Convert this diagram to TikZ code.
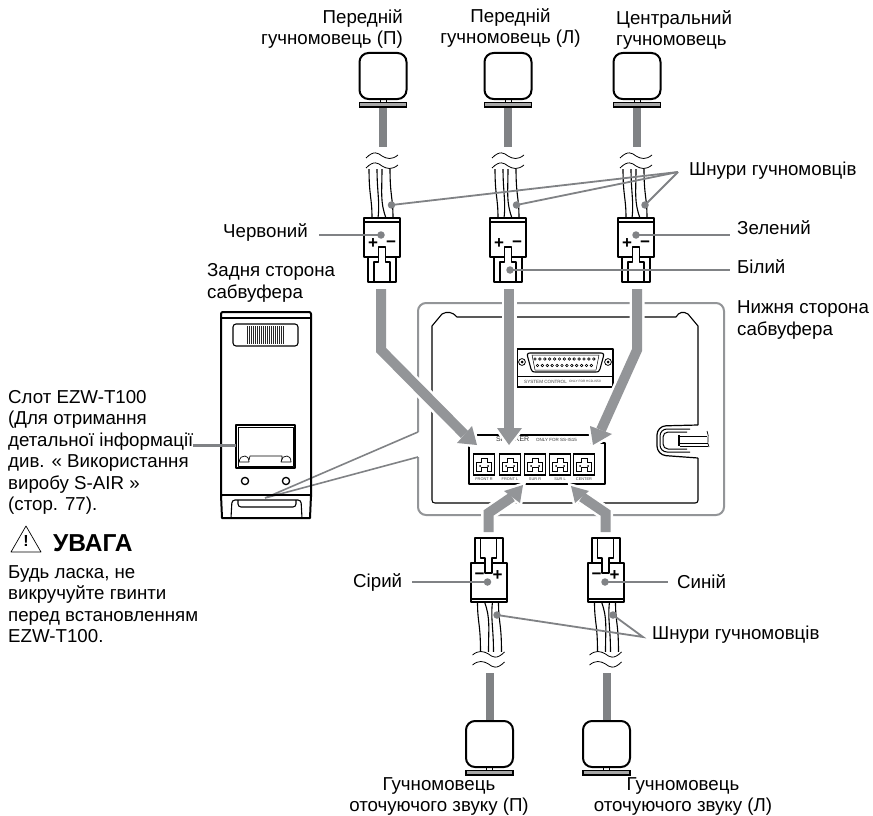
\documentclass[tikz,border=0pt]{standalone}
\usepackage{fontspec}
\setmainfont{Liberation Sans}
\definecolor{arrowgrey}{HTML}{939598}
\definecolor{cablegrey}{HTML}{808285}
\tikzset{
 txt/.style={inner sep=0pt,font=\fontsize{18.7}{21.5}\selectfont},
 bk/.style={draw=black,line width=1.1pt,line join=round},
 thick line/.style={draw=black,line width=2pt,line join=round},
 lead/.style={draw=cablegrey,line width=2.2pt},
 thin lead/.style={draw=cablegrey,line width=1.6pt},
 dotmark/.style={circle,fill=cablegrey,inner sep=0pt,minimum size=7.5pt},
 cable/.style={draw=cablegrey,line width=8pt},
 shaft/.style={draw=arrowgrey,line width=10pt,line join=miter},
 halo/.style={draw=white,line width=15pt,line join=miter},
 head/.style={fill=arrowgrey},
 headhalo/.style={draw=white,line width=5pt,fill=white,line join=miter},
 tiny/.style={inner sep=0pt,font=\fontsize{4.6}{5}\selectfont,text=black!75},
 sign/.style={inner sep=0pt,font=\bfseries\fontsize{17}{17}\selectfont},
}
% connector + wires, local frame: origin at junction of wide and narrow body
\newcommand{\plugwires}{%
 \fill[white] (-18,-98) rectangle (18,-39);
 \draw[bk] (-13,-89) .. controls (-13,-60) and (-10,-60) .. (-10,-39);
 \draw[bk] (-5,-89) .. controls (-5,-65) and (-2,-55) .. (-4,-39);
 \draw[bk] (0,-89) .. controls (0,-65) and (-2,-55) .. (4,-39);
 \draw[bk] (8,-89) .. controls (8,-60) and (11,-60) .. (11,-39);
 \draw[fill=white,draw=white] (-18,-95) rectangle (18,-89);
 \draw[bk,line width=.8pt] (-16,-89) .. controls (-8,-97) and (-4,-94) .. (0,-91) .. controls (5,-88) and (10,-87) .. (16,-92);
 \draw[bk,line width=.8pt] (-16,-99) .. controls (-8,-107) and (-4,-104) .. (0,-101) .. controls (5,-98) and (10,-97) .. (16,-102);
 \draw[thick line,fill=white] (-14,0) rectangle (14,25);
 \draw[thick line,fill=white] (-18,-39) rectangle (18,0);
 \draw[thick line] (-18,-35.5) -- (18,-35.5);
 \draw[bk,fill=white] (-3.5,-10) -- (3.5,-10) -- (3.5,5) -- (8,5) -- (8,25) -- (-8,25) -- (-8,5) -- (-3.5,5) -- cycle;
}
\newcommand{\speaker}[2]{% x, y of base top
 \draw[thick line,rounded corners=9pt] (#1-23.5,#2-49) rectangle (#1+23.5,#2-3);
 \draw[draw=black,line width=1.6pt,fill=black!35] (#1-23.5,#2+.5) rectangle (#1+23.5,#2+5);
 \draw[bk,line width=.8pt] (#1-3,#2-3) -- (#1-3,#2) (#1+3,#2-3) -- (#1+3,#2);
}
\begin{document}
\begin{tikzpicture}[x=1pt,y=-1pt]
\useasboundingbox (0,0) rectangle (873,816);
\fill[white] (0,0) rectangle (873,816);

% ---- subwoofer bottom frame
\draw[draw=arrowgrey,line width=2pt,rounded corners=8pt] (418,432) -- (418,303) -- (724,303) -- (724,515) -- (418,515) -- (418,457);
\coordinate (frameA) at (418,432);
\coordinate (frameB) at (418,457);
\coordinate (backtip) at (265,498);
\draw[thin lead] (frameA) -- (backtip) -- (frameB);
% inner outline
\draw[bk] (698,425) -- (698,326) -- (688,314) .. controls (683,311) and (679,312) .. (676,317) -- (457,317) .. controls (453,312) and (447,311) .. (442,314) -- (432,326) -- (432,500) .. controls (432,502) and (433,503) .. (435,503) -- (695,503) .. controls (697,503) and (698,502) .. (698,500) -- (698,458);
% system control
\draw[bk,line width=1.3pt,fill=white] (517,349) rectangle (613,387);
\draw[bk,line width=.6pt] (517,376) -- (613,376);
\draw[bk] (530,353) -- (601,353) .. controls (604,353) and (604,355) .. (603,358) -- (600,369) .. controls (599,372) and (598,372) .. (596,372) -- (535,372) .. controls (533,372) and (532,372) .. (531,369) -- (528,358) .. controls (527,355) and (527,353) .. (530,353) -- cycle;
\draw[line width=.5pt] (532,355) -- (599,355) -- (596,370) -- (535,370) -- cycle;
\foreach \i in {0,...,12} \draw[line width=.6pt] (535+\i*4.9,359) circle (1.3pt);
\foreach \i in {0,...,11} \draw[line width=.6pt] (537.5+\i*4.9,365.5) circle (1.3pt);
\foreach \x in {522,608} {\draw[line width=.8pt] (\x,362) circle (3.4pt); \fill (\x,362) circle (1.5pt);}
\node[tiny,anchor=west] (sysctl) at (524,381.5) {SYSTEM CONTROL};
\node[inner sep=0pt,font=\fontsize{3.2}{4}\selectfont,text=black!75,anchor=west] (sysonly) at (569,381.5) {ONLY FOR HCD-IS50};
% speaker terminal panel
\draw[bk] (477,435) -- (590,435);
\draw[bk,line width=1.3pt] (477,443) -- (469,443) -- (469,484) -- (605,484) -- (605,443) -- (590,443);
\node[inner sep=0pt,font=\fontsize{7}{8}\selectfont,text=black!80,anchor=west] (spk) at (496,439.5) {SPEAKER};
\node[inner sep=0pt,font=\fontsize{4.5}{5}\selectfont,text=black!80,anchor=west] (spkonly) at (536,440) {ONLY FOR SS-IS15};
\foreach \x/\t in {484/FRONT R,510/FRONT L,535/SUR R,560/SUR L,584/CENTER} {
 \draw[line width=1.3pt] (\x-10.5,454) rectangle (\x+10.5,475);
 \draw[line width=.8pt] (\x-7.5,471) -- (\x-7.5,462) -- (\x-3,462) -- (\x-3,458) -- (\x+3,458) -- (\x+3,462) -- (\x+7.5,462) -- (\x+7.5,471) -- (\x+3,471) -- (\x+3,467) -- (\x-3,467) -- (\x-3,471) -- cycle;
 \fill (\x-4,466) circle (1pt) (\x+4,466) circle (1pt);
 \node[inner sep=0pt,font=\fontsize{3.9}{4}\selectfont,text=black!75] at (\x,479) {\t};
}
% cable holder
\draw[bk,line width=1.2pt,rounded corners=9pt] (698,425) -- (657,426) -- (657,455) -- (698,458);
\draw[bk,line width=1pt,rounded corners=7pt] (690,429) -- (660,429) -- (660,452) -- (690,452);
\draw[bk,line width=1pt,rounded corners=5pt] (687,432) -- (663,432) -- (663,449) -- (687,449);
\draw[line width=2.5pt] (679,435) -- (679,446);
\draw[bk,line width=.9pt] (680,436) -- (707,436) (680,443) -- (708,443) (680,446) -- (708,446);
\draw[bk,line width=.7pt] (707,431) .. controls (710,437) and (706,442) .. (709,447);

% ---- arrows
\draw[halo] (381,289) -- (381,350) -- (464.5,434.5);
\draw[headhalo] (477,445) -- (472,426) -- (457,443) -- cycle;
\draw[halo] (509,289) -- (509,429);
\draw[headhalo] (509,445) -- (497,428) -- (522,428) -- cycle;
\draw[halo] (637,289) -- (637,350) -- (601,430);
\draw[headhalo] (593,445) -- (590,426) -- (612,434) -- cycle;
\draw[halo] (488.5,532) -- (488.5,513) -- (512,497);
\draw[headhalo] (523,485) -- (504,491) -- (520,503) -- cycle;
\draw[halo] (605.5,532) -- (605.5,513) -- (582,497);
\draw[headhalo] (571,486) -- (589,491) -- (575,503) -- cycle;
\draw[shaft] (381,289) -- (381,350) -- (464.5,434.5);
\fill[head] (477,445) -- (472,426) -- (457,443) -- cycle;
\draw[shaft] (509,289) -- (509,429);
\fill[head] (509,445) -- (497,428) -- (522,428) -- cycle;
\draw[shaft] (637,289) -- (637,350) -- (601,430);
\fill[head] (593,445) -- (590,426) -- (612,434) -- cycle;
\draw[shaft] (488.5,532) -- (488.5,513) -- (512,497);
\fill[head] (523,485) -- (504,491) -- (520,503) -- cycle;
\draw[shaft] (605.5,532) -- (605.5,513) -- (582,497);
\fill[head] (571,486) -- (589,491) -- (575,503) -- cycle;

% ---- top plugs and speakers
\foreach \x/\xc in {382/383,508/508,636/637} {
 \begin{scope}[shift={(\x,257)}]\plugwires\end{scope}
 \node[sign] at (\x-9,244) {+};
 \node[sign] at (\x+9,244) {−};
 \draw[cable] (\xc,108) -- (\xc,147);
 \speaker{\xc}{102}
}
% ---- bottom plugs and speakers
\foreach \x/\xc in {488.5/489.5,605.5/606.5} {
 \begin{scope}[shift={(\x,563)},rotate=180]\plugwires\end{scope}
 \node[sign] at (\x-9,576) {−};
 \node[sign] at (\x+9,576) {+};
 \draw[cable] (\xc,673) -- (\xc,721);
 \speaker{\xc}{770}
}

% ---- subwoofer rear
\draw[thick line] (221,497) -- (221,314) .. controls (221,312.5) and (222,312) .. (223,312) -- (309,312) .. controls (310,312) and (311,312.5) .. (311,314) -- (311,497);
\draw[bk] (221,318) -- (311,318);
\draw[bk,rounded corners=3pt] (233,324) rectangle (298,346);
\foreach \i in {0,...,18} \draw[line width=1pt,black!85] (247.5+\i*2,326) -- (247.5+\i*2,344);
\draw[bk,line width=1.3pt] (236,425) rectangle (295,468);
\draw[bk,line width=.7pt] (238,427) rectangle (293,466);
\draw[bk,line width=.7pt] (239,462) .. controls (240,457) and (242,456) .. (245,456) .. controls (247,456) and (249,458) .. (249,462) -- cycle;
\draw[bk,line width=.7pt] (281,462) .. controls (282,457) and (284,456) .. (287,456) .. controls (289,456) and (291,458) .. (291,462) -- cycle;
\draw[bk,line width=.7pt] (249,460) -- (250,456) -- (282,456) -- (282,460);
\foreach \x in {245,286} \draw[line width=1.3pt] (\x,481) circle (3.6pt);
\draw[bk] (221,495) -- (311,495);
\draw[thick line] (221,495) -- (222,518) -- (310,518) -- (311,495);
\draw[bk,rounded corners=3pt] (231,518) -- (232,500) -- (301,500) -- (302,518);
\draw[bk,rounded corners=3pt] (238,500) -- (238,507) -- (296,507) -- (296,500);
% ---- leads
\coordinate (slotlead) at (193,445.5);
\coordinate (slot) at (236,445.5);
\draw[lead] (slotlead) -- (slot);

\coordinate (hubtop) at (678,172);
\node[dotmark] (da) at (391.5,205) {};
\node[dotmark] (db) at (516.5,205) {};
\node[dotmark] (dc) at (645,205) {};
\foreach \n in {da,db,dc} \draw[lead,line width=1.8pt] (hubtop) -- (\n.center);
\coordinate (hubbot) at (643,637);
\node[dotmark] (d5) at (497,615) {};
\node[dotmark] (d6) at (613,615) {};
\draw[lead,line width=1.8pt] (d5.center) -- (hubbot) -- (d6.center);
\node[dotmark] (red) at (381,235) {};
\coordinate (redl) at (319,235);
\draw[lead] (redl) -- (red.center);
\node[dotmark] (grn) at (636,235) {};
\coordinate (grnl) at (730,235);
\draw[lead] (grn.center) -- (grnl);
\node[dotmark] (wht) at (510,270) {};
\coordinate (whtl) at (730,270);
\draw[lead] (wht.center) -- (whtl);
\node[dotmark] (gry) at (487.5,582) {};
\coordinate (gryl) at (412,582);
\draw[lead] (gryl) -- (gry.center);
\node[dotmark] (blu) at (605,582) {};
\coordinate (blul) at (668,582);
\draw[lead] (blu.center) -- (blul);

% ---- labels
\node[txt,align=right,anchor=east] (t1) at (403,29) {Передній\\гучномовець (П)};
\node[txt,align=center] (t2) at (510.5,28) {Передній\\гучномовець (Л)};
\node[txt,align=left,anchor=west] (t3) at (616,30) {Центральний\\гучномовець};
\node[txt,anchor=west] (t4) at (689,171) {Шнури гучномовців};
\node[txt,anchor=west] (t5) at (223,232) {Червоний};
\node[txt,anchor=west] (t6) at (737,228) {Зелений};
\node[txt,anchor=west] (t7) at (737,267) {Білий};
\node[txt,anchor=west,align=left] (t8) at (207,283) {Задня сторона\\сабвуфера};
\node[txt,anchor=west,align=left] (t9) at (737,320) {Нижня сторона\\сабвуфера};
\node[txt,anchor=north west,align=left] (t10) at (8,390) {Слот EZW-T100\\(Для отримання\\детальної інформації\\див. « Використання\\виробу S-AIR »\\(стор. 77).};
\draw[line width=.7pt,line join=round] (11,552) -- (26,526) -- (41,552) -- cycle;
\node[inner sep=0pt,font=\bfseries\fontsize{16}{16}\selectfont] (warn) at (26,541) {!};
\node[inner sep=0pt,anchor=west,font=\bfseries\fontsize{24.5}{25}\selectfont] (t11) at (53,543) {УВАГА};
\node[txt,anchor=north west,align=left] (t12) at (8,565) {Будь ласка, не\\викручуйте гвинти\\перед встановленням\\EZW-T100.};
\node[txt,anchor=west] (t13) at (353,582) {Сірий};
\node[txt,anchor=west] (t14) at (677,582) {Синій};
\node[txt,anchor=west] (t15) at (652,635) {Шнури гучномовців};
\node[txt,align=center] (t16) at (439,796.5) {Гучномовець\\оточуючого звуку (П)};
\node[txt,align=center] (t17) at (683,796.5) {Гучномовець\\оточуючого звуку (Л)};
\end{tikzpicture}
\end{document}
